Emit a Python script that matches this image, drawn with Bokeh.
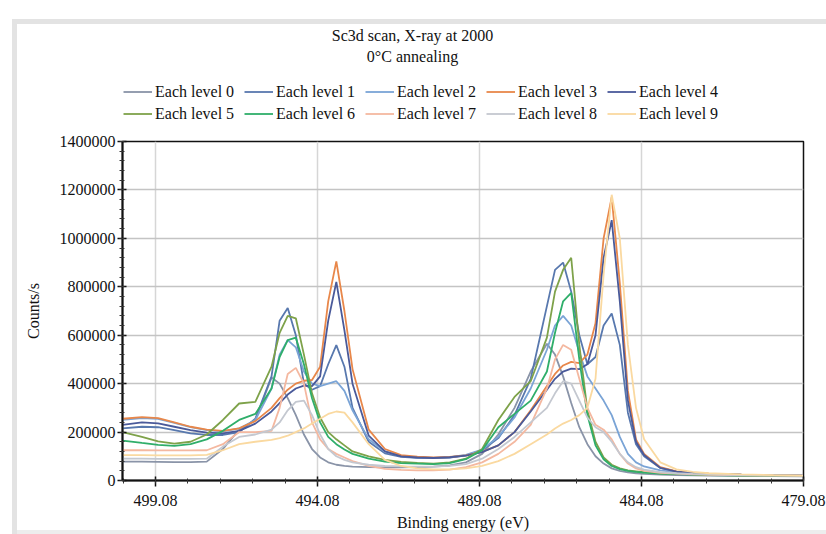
from bokeh.plotting import figure
from bokeh.layouts import column
from bokeh.models import (FixedTicker, SingleIntervalTicker, Legend, LegendItem,
                          Range1d, PrintfTickFormatter)
from bokeh.core.properties import value
from bokeh.embed import file_html
from bokeh.resources import INLINE

title_line1 = "Sc3d scan, X-ray at 2000"
title_line2 = "0°C annealing"
x_label = "Binding energy (eV)"
y_label = "Counts/s"

x_ticks = [499.08, 494.08, 489.08, 484.08, 479.08]

energy = [500.1, 499.5, 499.0, 498.5, 498.0, 497.5, 497.0, 496.5, 496.0, 495.5,
          495.25, 495.0, 494.75, 494.5, 494.25, 494.0, 493.75, 493.5, 493.25, 493.0,
          492.5, 492.0, 491.5, 491.0, 490.5, 490.0, 489.5, 489.0, 488.5, 488.0,
          487.5, 487.0, 486.75, 486.5, 486.25, 486.0, 485.75, 485.5, 485.25, 485.0,
          484.75, 484.5, 484.25, 484.0, 483.5, 483.0, 482.5, 482.0, 481.0, 480.0, 479.1]

level_0 = [78000, 78000, 77000, 76000, 76000, 78000, 130000, 210000, 250000, 425000,
           400000, 340000, 270000, 190000, 130000, 95000, 75000, 65000, 60000, 57000,
           55000, 54000, 54000, 55000, 57000, 62000, 75000, 110000, 190000, 300000,
           450000, 565000, 520000, 430000, 320000, 220000, 150000, 100000, 70000, 50000,
           40000, 34000, 30000, 27000, 24000, 22000, 21000, 20000, 19000, 18000, 17000]
level_1 = [215000, 222000, 220000, 208000, 195000, 188000, 188000, 200000, 255000, 430000,
           660000, 712000, 600000, 400000, 375000, 390000, 480000, 559000, 470000, 300000,
           160000, 112000, 98000, 94000, 92000, 95000, 104000, 125000, 175000, 270000,
           420000, 720000, 870000, 900000, 780000, 600000, 480000, 510000, 640000, 690000,
           560000, 280000, 150000, 100000, 52000, 37000, 31000, 27000, 24000, 22000, 20000]
level_2 = [250000, 258000, 255000, 238000, 220000, 208000, 203000, 215000, 250000, 380000,
           520000, 580000, 550000, 450000, 400000, 390000, 400000, 410000, 370000, 290000,
           170000, 120000, 102000, 95000, 93000, 96000, 106000, 128000, 180000, 260000,
           380000, 540000, 640000, 680000, 640000, 530000, 430000, 380000, 330000, 270000,
           180000, 110000, 75000, 58000, 42000, 34000, 30000, 27000, 24000, 22000, 20000]
level_3 = [255000, 262000, 258000, 240000, 222000, 210000, 205000, 215000, 245000, 300000,
           340000, 375000, 400000, 412000, 415000, 470000, 740000, 905000, 700000, 460000,
           210000, 130000, 105000, 98000, 95000, 97000, 104000, 118000, 145000, 200000,
           290000, 390000, 440000, 475000, 490000, 485000, 520000, 650000, 1000000, 1170000,
           815000, 370000, 170000, 110000, 55000, 38000, 32000, 28000, 24000, 22000, 20000]
level_4 = [230000, 240000, 236000, 222000, 208000, 198000, 195000, 205000, 235000, 285000,
           320000, 355000, 380000, 392000, 390000, 430000, 660000, 820000, 620000, 400000,
           185000, 120000, 100000, 95000, 93000, 96000, 103000, 117000, 145000, 200000,
           285000, 375000, 420000, 450000, 462000, 460000, 480000, 600000, 920000, 1075000,
           740000, 330000, 160000, 105000, 52000, 37000, 31000, 27000, 24000, 22000, 20000]
level_5 = [200000, 180000, 162000, 152000, 160000, 190000, 250000, 318000, 325000, 470000,
           610000, 680000, 670000, 520000, 360000, 260000, 200000, 170000, 145000, 120000,
           100000, 85000, 77000, 73000, 70000, 75000, 90000, 130000, 250000, 345000,
           410000, 590000, 780000, 870000, 920000, 560000, 290000, 160000, 95000, 65000,
           50000, 42000, 38000, 34000, 30000, 27000, 25000, 23000, 21000, 20000, 19000]
level_6 = [165000, 155000, 147000, 143000, 150000, 170000, 205000, 250000, 275000, 380000,
           510000, 580000, 590000, 480000, 340000, 240000, 180000, 150000, 128000, 110000,
           90000, 78000, 72000, 70000, 68000, 72000, 88000, 125000, 220000, 275000,
           330000, 450000, 610000, 740000, 775000, 500000, 270000, 145000, 88000, 60000,
           47000, 40000, 36000, 33000, 29000, 26000, 24000, 22000, 20000, 19000, 18000]
level_7 = [125000, 125000, 124000, 124000, 124000, 125000, 150000, 200000, 200000, 205000,
           300000, 440000, 465000, 400000, 240000, 170000, 130000, 110000, 95000, 80000,
           60000, 48000, 44000, 42000, 42000, 45000, 55000, 75000, 110000, 160000,
           230000, 380000, 500000, 560000, 540000, 420000, 300000, 230000, 210000, 170000,
           110000, 70000, 50000, 40000, 32000, 28000, 25000, 23000, 21000, 20000, 19000]
level_8 = [90000, 90000, 89000, 89000, 89000, 90000, 140000, 180000, 190000, 210000,
           240000, 290000, 325000, 330000, 270000, 190000, 130000, 100000, 85000, 75000,
           65000, 60000, 58000, 57000, 57000, 60000, 68000, 90000, 130000, 180000,
           240000, 300000, 360000, 410000, 400000, 330000, 260000, 220000, 200000, 160000,
           110000, 75000, 55000, 45000, 35000, 30000, 27000, 25000, 22000, 21000, 20000]
level_9 = [105000, 105000, 104000, 104000, 104000, 106000, 125000, 150000, 160000, 168000,
           175000, 185000, 200000, 215000, 235000, 255000, 275000, 285000, 280000, 240000,
           150000, 85000, 60000, 50000, 46000, 46000, 50000, 60000, 80000, 110000,
           150000, 190000, 215000, 235000, 250000, 270000, 300000, 420000, 850000, 1180000,
           1000000, 560000, 300000, 170000, 75000, 46000, 36000, 30000, 25000, 22000, 20000]

series = [level_0, level_1, level_2, level_3, level_4,
          level_5, level_6, level_7, level_8, level_9]
names = ["Each level %d" % i for i in range(10)]
colors = ["#8a94a8", "#5878ae", "#7aa4d6", "#e8874a", "#4a5a9a",
          "#7ea24a", "#2fae6a", "#f4b8a0", "#c4c8d0", "#fad9a0"]

FONT = "Liberation Serif"
INK = "#111111"
W = 826
TOP_H = 125
FRAME_L, FRAME_R = 122, 803   # pixel extent of the plot frame (shared by both rows)

# ---------- header figure: title lines + legend ----------
top = figure(width=W, height=TOP_H, output_backend="svg", toolbar_location=None,
             title=None, x_axis_type=None, y_axis_type=None,
             x_range=Range1d(FRAME_L, FRAME_R), y_range=Range1d(TOP_H, 0),
             min_border=0, min_border_left=0, min_border_right=0,
             min_border_top=0, min_border_bottom=0)
top.grid.visible = False
top.outline_line_color = None
top.background_fill_color = None
top.border_fill_color = None
top.text(x=[412, 412], y=[35, 56], text=[title_line1, title_line2],
         text_align="center", text_baseline="middle", text_font=value(FONT),
         text_font_size="16px", text_color=INK)

# legend swatches (kept outside the visible range of the header)
dummies = [top.line(x=[0, 10], y=[400, 400], line_color=c, line_width=1.8)
           for c in colors]
legend = Legend(items=[LegendItem(label=n, renderers=[r]) for n, r in zip(names, dummies)],
                location=(1, 2), orientation="horizontal", ncols=5,
                glyph_width=29, glyph_height=19, label_height=19, label_width=86,
                label_standoff=3, spacing=3, padding=0, margin=0,
                label_text_font=FONT, label_text_font_size="16px",
                label_text_color=INK, border_line_alpha=0,
                background_fill_alpha=0)
top.add_layout(legend, "center")

# ---------- main plot ----------
p = figure(width=W, height=534 - TOP_H, output_backend="svg", toolbar_location=None,
           title=None,
           x_range=Range1d(500.10, 479.08), y_range=Range1d(0, 1400000),
           min_border_left=FRAME_L, min_border_right=W - FRAME_R, min_border_top=16,
           min_border_bottom=54)
p.background_fill_color = "white"
p.border_fill_color = None
p.outline_line_color = INK
p.outline_line_width = 1.5

for ys, c in zip(series, colors):
    p.line(energy, ys, line_color=c, line_width=1.8)

p.xaxis.ticker = FixedTicker(ticks=x_ticks,
                             minor_ticks=[x_ticks[0] + 1 - k for k in range(22)])
p.xaxis.formatter = PrintfTickFormatter(format="%.2f")
p.yaxis.ticker = SingleIntervalTicker(interval=200000, num_minor_ticks=5)
p.yaxis.formatter = PrintfTickFormatter(format="%d")
for ax in (p.xaxis, p.yaxis):
    ax.axis_line_color = INK
    ax.axis_line_width = 2
    ax.major_tick_line_color = INK
    ax.major_tick_line_width = 1.5
    ax.minor_tick_line_color = "#333333"
    ax.minor_tick_line_width = 1
    ax.major_label_text_font = FONT
    ax.major_label_text_font_size = "16px"
    ax.major_label_text_color = INK
    ax.axis_label_text_font = FONT
    ax.axis_label_text_font_size = "16px"
    ax.axis_label_text_font_style = "normal"
    ax.axis_label_text_color = INK
p.xaxis.axis_label = x_label
p.yaxis.axis_label = y_label
p.xaxis.major_tick_in = 4
p.xaxis.major_tick_out = 6
p.xaxis.minor_tick_in = 2
p.xaxis.minor_tick_out = 3
p.xaxis.major_label_standoff = 8
p.xaxis.axis_label_standoff = 5
p.yaxis.major_tick_in = 4
p.yaxis.major_tick_out = 5
p.yaxis.minor_tick_in = 2
p.yaxis.minor_tick_out = 3
p.yaxis.major_label_standoff = 2
p.yaxis.axis_label_standoff = 15

p.xgrid.grid_line_color = "#d6d6d6"
p.xgrid.grid_line_width = 1.5
p.ygrid.grid_line_color = "#c4c4c4"
p.ygrid.grid_line_width = 1.5

page = column(top, p, spacing=0)
page.styles = {"background": (
    "linear-gradient(#e3e3e3, #e3e3e3) 12px 19px / 814px 5px no-repeat, "
    "linear-gradient(#e3e3e3, #e3e3e3) 12px 19px / 5px 515px no-repeat, "
    "linear-gradient(#ededed, #ededed) 12px 530px / 814px 4px no-repeat, #ffffff")}

open("out.html", "w").write(file_html(page, INLINE))
